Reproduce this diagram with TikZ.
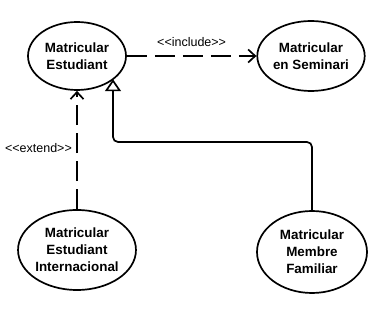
\documentclass[tikz,border=0pt]{standalone}
\usepackage{fontspec}
\setmainfont{Liberation Sans}
\usetikzlibrary{shapes.geometric,arrows.meta}
\begin{document}
\begin{tikzpicture}[x=1pt, y=1pt, line width=1.7pt,
  usecase/.style={draw, ellipse, inner sep=0pt, align=center, font=\fontsize{13.4}{17}\selectfont\bfseries},
  dep/.style={dash pattern=on 20pt off 8pt, -{Straight Barb[length=7pt,width=13pt]}},
  gen/.style={rounded corners=5pt, -{Triangle[open, length=12pt, width=16pt, fill=white]}},
  stereo/.style={font=\fontsize{12.5}{14}\selectfont}]
\useasboundingbox (0,0) rectangle (373,-310);
\node[usecase, minimum width=98pt, minimum height=68pt] (a) at (77,-56) {Matricular\\Estudiant};
\node[usecase, minimum width=98pt, minimum height=70pt] (b) at (311,-56) {Matricular\\en Seminari};
\node[usecase, minimum width=110pt, minimum height=80pt] (c) at (77,-250) {Matricular\\Estudiant\\Internacional};
\node[usecase, minimum width=110pt, minimum height=82pt] (d) at (312,-252) {Matricular\\Membre\\Familiar};
\coordinate (bend) at (113,-142);

\draw[dep] (a) -- node[stereo, above=5pt] {<\kern0pt<include>\kern0pt>} (b);
\draw[dep] (c) -- node[stereo, pos=0.52, left=1pt] {<\kern0pt<extend>\kern0pt>} (a);
\draw[gen] (d) |- (bend) -- (bend |- a.-32.6);
\end{tikzpicture}
\end{document}
